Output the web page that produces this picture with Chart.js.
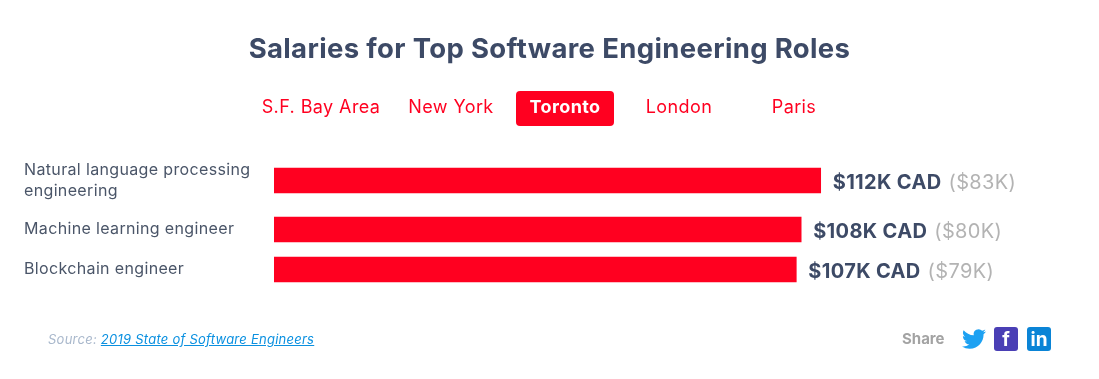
<!DOCTYPE html>
<html>
<head>
<meta charset="utf-8">
<title>Salaries for Top Software Engineering Roles</title>
<script src="https://cdn.jsdelivr.net/npm/chart.js@4"></script>
<style>
  html, body { margin: 0; padding: 0; background: #fff; }
  body { font-family: Inter, sans-serif; }
  #wrap { position: relative; width: 1099px; height: 379px; overflow: hidden; }
  #myChart { position: absolute; left: 0; top: 0; }
  .tab { position: absolute; top: 91px; height: 35px; line-height: 32px; text-align: center; font-size: 18px; letter-spacing: 0.4px; color: #ff0020; border-radius: 4px; }
  .tab.active { background: #ff0020; color: #fff; font-weight: 700; }
  #source { position: absolute; left: 48px; top: 331px; font-size: 13px; letter-spacing: 0.25px; font-style: italic; color: #a9b8cc; }
  #source a { color: #0a90e0; }
  #share { position: absolute; left: 902px; top: 329px; font-size: 15px; font-weight: 700; color: #a3a3a3; }
  .icon { position: absolute; top: 327px; width: 24px; height: 24px; border-radius: 3px; color: #fff; text-align: center; font-weight: 700; font-size: 19px; line-height: 25px; }
</style>
</head>
<body>
<div id="wrap">
  <canvas id="myChart" width="1099" height="379"></canvas>
  <div class="tab" style="left:252px;width:138px">S.F. Bay Area</div>
  <div class="tab" style="left:396px;width:110px">New York</div>
  <div class="tab active" style="left:516px;width:98px">Toronto</div>
  <div class="tab" style="left:624px;width:110px">London</div>
  <div class="tab" style="left:739px;width:110px">Paris</div>
  <div id="source">Source: <a href="#">2019 State of Software Engineers</a></div>
  <div id="share">Share</div>
  <svg style="position:absolute;left:962px;top:327px" width="24" height="24" viewBox="0 0 24 24"><path fill="#1da1f2" d="M23.953 4.57a10 10 0 01-2.825.775 4.958 4.958 0 002.163-2.723c-.951.555-2.005.959-3.127 1.184a4.92 4.92 0 00-8.384 4.482C7.69 8.095 4.067 6.13 1.64 3.162a4.822 4.822 0 00-.666 2.475c0 1.71.87 3.213 2.188 4.096a4.904 4.904 0 01-2.228-.616v.06a4.923 4.923 0 003.946 4.827 4.996 4.996 0 01-2.212.085 4.936 4.936 0 004.604 3.417 9.867 9.867 0 01-6.102 2.105c-.39 0-.779-.023-1.17-.067a13.995 13.995 0 007.557 2.209c9.053 0 13.998-7.496 13.998-13.985 0-.21 0-.42-.015-.63A9.935 9.935 0 0024 4.59z"/></svg>
  <div class="icon" style="left:994px;background:#4a3fb5">f</div>
  <div class="icon" style="left:1027px;background:#0a84d6">in</div>
</div>
<script>
  const roles = [
    ["Natural language processing", "engineering"],
    ["Machine learning engineer"],
    ["Blockchain engineer"]
  ];
  const salariesCad = [112, 108, 107];
  const salariesUsd = [83, 80, 79];

  const red = "#ff0020";
  const fontName = "Inter, sans-serif";

  // rows are as tall as their label, so the two line label pushes its bar down
  const rowHeights = roles.map(r => 40 + (r.length - 1) * 18);
  const rowCenters = [];
  let rowTotal = 0;
  rowHeights.forEach(h => {
    rowCenters.push(rowTotal + h / 2);
    rowTotal += h;
  });

  // Inter is a bit narrower than the original font
  const wideText = {
    id: "wideText",
    beforeDraw(chart) { chart.ctx.letterSpacing = "0.35px"; }
  };

  // salary text to the right of each bar
  const valueLabels = {
    id: "valueLabels",
    afterDatasetsDraw(chart) {
      const ctx = chart.ctx;
      chart.getDatasetMeta(0).data.forEach((bar, i) => {
        const main = `$${salariesCad[i]}K CAD`;
        ctx.save();
        ctx.textBaseline = "middle";
        ctx.font = `700 20px ${fontName}`;
        ctx.fillStyle = "#3d4a66";
        const x = bar.x + 12;
        ctx.fillText(main, x, bar.y + 2);
        const w = ctx.measureText(main).width;
        ctx.font = `400 20px ${fontName}`;
        ctx.fillStyle = "#b3b3b3";
        ctx.fillText(`($${salariesUsd[i]}K)`, x + w + 7, bar.y + 2);
        ctx.restore();
      });
    }
  };

  new Chart(document.getElementById("myChart"), {
    type: "bar",
    data: {
      datasets: [{
        data: salariesCad.map((v, i) => ({ x: v, y: rowCenters[i] })),
        backgroundColor: red,
        barThickness: 25
      }]
    },
    options: {
      indexAxis: "y",
      responsive: false,
      animation: false,
      layout: { padding: { left: 24, right: 24, top: 0, bottom: 89.5 } },
      plugins: {
        legend: { display: false },
        tooltip: { enabled: false },
        title: {
          display: true,
          text: "Salaries for Top Software Engineering Roles",
          color: "#3d4a66",
          font: { family: fontName, size: 27.5, weight: "700" },
          padding: { top: 33, bottom: 85.5 }
        }
      },
      scales: {
        x: { display: false, min: 0, max: 164.1 },
        y: {
          type: "linear",
          offset: false,
          reverse: true,
          min: 0,
          max: rowTotal,
          afterFit(scale) {
            scale.width = 250;
            // labels may hang over the plot area, don't let them shrink it
            scale.paddingTop = 0;
            scale.paddingBottom = 0;
          },
          afterBuildTicks(scale) { scale.ticks = rowCenters.map(v => ({ value: v })); },
          grid: { display: false, drawTicks: false },
          border: { display: false },
          ticks: {
            autoSkip: false,
            crossAlign: "far",
            color: "#4a5568",
            font: { family: fontName, size: 16, lineHeight: 1.35 },
            callback(value) { return roles[rowCenters.indexOf(value)]; }
          }
        }
      }
    },
    plugins: [wideText, valueLabels]
  });
</script>
</body>
</html>
